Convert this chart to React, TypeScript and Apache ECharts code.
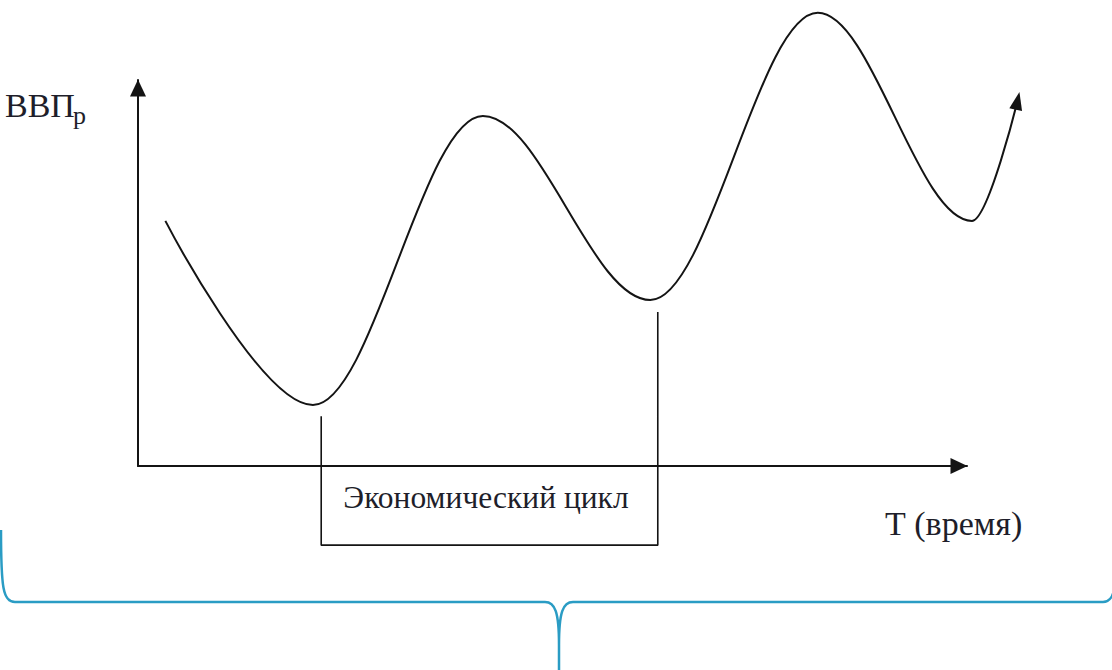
import React, { useEffect, useRef } from 'react';
import * as echarts from 'echarts';

// Business-cycle curve (extrema of the wave + end of the arrow): time (x) vs real GDP (y)
const timePoints = [3.3, 21.1, 41.6, 61.8, 82.0, 100.6, 106.1];
const gdpPoints = [63.5, 15.8, 90.7, 43.0, 117.4, 63.5, 94.6];

// Bracket marking one economic cycle (trough to trough), drawn below the time axis
const cycleTimes = [22.1, 22.1, 62.7, 62.7];
const cycleLevels = [12.9, -20.5, -20.5, 39.9];

const yAxisTitle = 'ВВП';
const yAxisSub = 'р';
const xAxisTitle = 'Т (время)';
const cycleLabel = 'Экономический цикл';

const BRACE_D =
  'M 1 530 C 1 588 3 602 15 602 L 545 602 C 555 602 559 612 559 645 L 559 675 M 559 645 C 559 612 563 602 573 602 L 1103 602 C 1115 602 1117 588 1117 530';

let braceRegistered = false;

export default function App() {
  const ref = useRef<HTMLDivElement>(null);

  useEffect(() => {
    if (!ref.current) return;
    if (!braceRegistered) {
      echarts.graphic.registerShape('brace', echarts.graphic.extendPath(BRACE_D, {}) as any);
      braceRegistered = true;
    }
    const chart = echarts.init(ref.current, null, { renderer: 'svg' });
    const last = timePoints.length - 1;
    const serif = 'Liberation Serif';
    const ink = '#141414';
    const textInk = '#1e1e2a';

    // pixel scale: 100 x-units over 829px, 100 y-units over 386px
    const pxPerX = 8.29;
    const extMaxX = 110;

    const hiddenAxis = {
      show: false,
      axisLine: { show: false },
      axisTick: { show: false },
      axisLabel: { show: false },
      splitLine: { show: false },
    };

    chart.setOption({
      animation: false,
      backgroundColor: '#ffffff',
      grid: [
        { left: 138, right: 145, top: 80, bottom: 204, containLabel: false },
        { left: 138, right: 1112 - 138 - extMaxX * pxPerX, top: 80, bottom: 204, containLabel: false },
      ],
      xAxis: [
        {
          type: 'value',
          gridIndex: 0,
          min: 0,
          max: 100,
          axisLine: {
            show: true,
            onZero: false,
            symbol: ['none', 'triangle'],
            symbolSize: [16, 17],
            symbolOffset: [0, -8],
            lineStyle: { color: ink, width: 2 },
          },
          axisTick: { show: false },
          axisLabel: { show: false },
          splitLine: { show: false },
        },
        { type: 'value', gridIndex: 1, min: 0, max: extMaxX, ...hiddenAxis },
      ],
      yAxis: [
        {
          type: 'value',
          gridIndex: 0,
          min: 0,
          max: 100,
          axisLine: {
            show: true,
            onZero: false,
            symbol: ['none', 'triangle'],
            symbolSize: [16, 17],
            symbolOffset: [0, -8],
            lineStyle: { color: ink, width: 2 },
          },
          axisTick: { show: false },
          axisLabel: { show: false },
          splitLine: { show: false },
        },
        { type: 'value', gridIndex: 1, min: 0, max: 100, ...hiddenAxis },
      ],
      series: [
        {
          type: 'line',
          xAxisIndex: 1,
          yAxisIndex: 1,
          data: timePoints.map((t, i) =>
            i === last
              ? { value: [t, gdpPoints[i]], symbol: 'triangle', symbolSize: [13, 18], symbolRotate: -12 }
              : { value: [t, gdpPoints[i]], symbol: 'none' }
          ),
          smooth: 0.35,
          smoothMonotone: 'x',
          clip: false,
          showSymbol: true,
          lineStyle: { color: ink, width: 2 },
          itemStyle: { color: ink },
          z: 3,
        },
        {
          type: 'line',
          xAxisIndex: 1,
          yAxisIndex: 1,
          data: cycleTimes.map((t, i) => [t, cycleLevels[i]]),
          symbol: 'none',
          clip: false,
          lineStyle: { color: ink, width: 1.6 },
          z: 2,
        },
      ],
      graphic: [
        {
          type: 'brace',
          x: 0,
          y: 0,
          style: { stroke: '#2a9cc4', lineWidth: 2.5, fill: 'none' },
          silent: true,
        },
        {
          type: 'text',
          x: 5,
          y: 105,
          style: { text: yAxisTitle, fontFamily: serif, fontSize: 34, fill: textInk, textAlign: 'left', textVerticalAlign: 'middle' },
        },
        {
          type: 'text',
          x: 73,
          y: 115,
          style: { text: yAxisSub, fontFamily: serif, fontSize: 26, fill: textInk, textAlign: 'left', textVerticalAlign: 'middle' },
        },
        {
          type: 'text',
          x: 885,
          y: 523,
          style: { text: xAxisTitle, fontFamily: serif, fontSize: 34, fill: textInk, textAlign: 'left', textVerticalAlign: 'middle' },
        },
        {
          type: 'text',
          x: 486,
          y: 497,
          style: { text: cycleLabel, fontFamily: serif, fontSize: 31.5, fill: textInk, textAlign: 'center', textVerticalAlign: 'middle' },
        },
      ],
    });
    return () => chart.dispose();
  }, []);

  return (
    <div
      ref={ref}
      style={{ position: 'fixed', left: 0, top: 0, width: 1112, height: 670, background: '#fff' }}
    />
  );
}
